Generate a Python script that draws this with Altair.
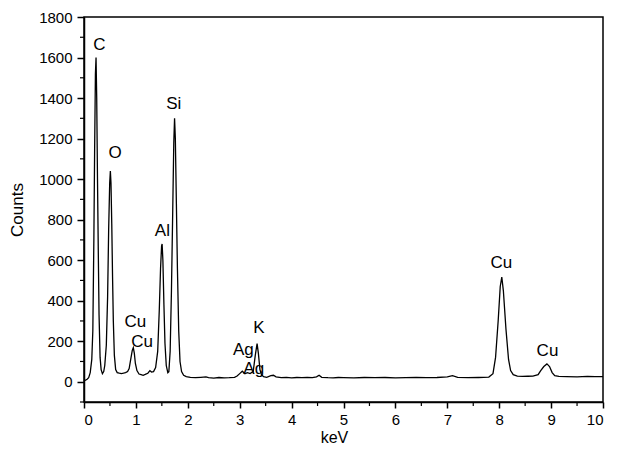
import altair as alt
import pandas as pd

# ---- spectrum (keV, counts) ----
kev = [
    0.00, 0.03, 0.06, 0.09, 0.12, 0.15, 0.17, 0.19, 0.205, 0.22, 0.232, 0.245, 0.26, 0.275, 0.29, 0.31, 0.33, 0.355, 0.38,
    0.40, 0.43, 0.455, 0.475, 0.495, 0.508, 0.52, 0.535, 0.55, 0.565, 0.585, 0.61, 0.64, 0.68, 0.72, 0.76, 0.80, 0.84, 0.87,
    0.90, 0.93, 0.95, 0.97, 0.99, 1.02, 1.06, 1.10, 1.14, 1.18, 1.23, 1.27, 1.30, 1.34,
    1.38, 1.42, 1.45, 1.475, 1.495, 1.505, 1.52, 1.54, 1.56, 1.585, 1.615, 1.635,
    1.66, 1.685, 1.71, 1.73, 1.745, 1.76, 1.78, 1.80, 1.825, 1.85, 1.88, 1.92, 1.97, 2.05, 2.15, 2.25, 2.35, 2.40, 2.50,
    2.60, 2.70, 2.80, 2.90, 2.95, 3.00, 3.05, 3.10, 3.15, 3.20, 3.26, 3.30, 3.335, 3.36, 3.39, 3.42, 3.46, 3.52, 3.60,
    3.65, 3.70, 3.80, 3.90, 4.00, 4.10, 4.20, 4.30, 4.40, 4.48, 4.53, 4.58, 4.70, 4.80, 4.90, 5.00, 5.20, 5.40, 5.60,
    5.80, 6.00, 6.20, 6.40, 6.60, 6.80, 7.00, 7.10, 7.20, 7.40, 7.60, 7.80, 7.88, 7.93, 7.98, 8.02, 8.05, 8.08, 8.13,
    8.18, 8.22, 8.27, 8.35, 8.45, 8.55, 8.65, 8.75, 8.80, 8.86, 8.92, 8.97, 9.02, 9.07, 9.15, 9.30, 9.50, 9.70, 9.85, 10.0,
]
counts = [
    5, 8, 12, 20, 45, 110, 250, 700, 1150, 1520, 1600, 1400, 1000, 650, 330, 120, 60, 40, 50,
    80, 180, 420, 750, 980, 1040, 980, 780, 520, 300, 130, 60, 45, 42, 40, 42, 45, 50, 65,
    110, 155, 168, 140, 90, 55, 38, 35, 32, 36, 42, 55, 48, 50,
    70, 150, 350, 560, 670, 680, 600, 380, 190, 80, 45, 50,
    150, 450, 850, 1180, 1300, 1200, 880, 560, 250, 100, 50, 32, 25, 22, 20, 22, 24, 20, 18,
    21, 19, 20, 22, 28, 40, 52, 40, 45, 40, 50, 130, 188, 140, 60, 35, 25, 22, 30,
    32, 24, 20, 22, 19, 21, 20, 22, 20, 24, 32, 22, 20, 19, 21, 20, 19, 21, 20,
    21, 19, 20, 22, 20, 21, 24, 30, 22, 20, 21, 23, 40, 120, 300, 470, 516, 450, 260,
    110, 55, 35, 28, 26, 27, 28, 35, 55, 75, 88, 75, 45, 30, 26, 25, 24, 26, 25, 25,
]

# ---- peak labels ----
label_text = ["C", "O", "Si", "Al", "Cu", "Cu", "Ag", "Ag", "K", "Cu", "Cu"]
label_kev = [0.295, 0.60, 1.73, 1.51, 0.99, 1.12, 3.07, 3.27, 3.37, 8.04, 8.93]
label_counts = [1660, 1130, 1372, 743, 295, 197, 157, 65, 266, 585, 150]

# ---- axis ticks ----
x_major = list(range(0, 11))
x_minor = [0.5, 1.5, 2.5, 3.5, 4.5, 5.5, 6.5, 7.5, 8.5, 9.5]
y_major = [0, 200, 400, 600, 800, 1000, 1200, 1400, 1600, 1800]
y_minor = [-100, 100, 300, 500, 700, 900, 1100, 1300, 1500, 1700]

FONT = "Liberation Sans"
W, H = 519, 385

spec = pd.DataFrame({"keV": kev, "Counts": counts})
labels = pd.DataFrame({"keV": label_kev, "Counts": label_counts, "t": label_text})
xm = pd.DataFrame({"v": x_minor})
ym = pd.DataFrame({"v": y_minor})

xscale = alt.Scale(domain=[0, 10], nice=False, zero=False)
yscale = alt.Scale(domain=[-100, 1800], nice=False, zero=False)

line = alt.Chart(spec).mark_line(color="black", strokeWidth=1.3).encode(
    x=alt.X("keV:Q", scale=xscale,
            axis=alt.Axis(values=x_major, format="d", title="keV", titleX=250,
                          titlePadding=2, titleFontSize=16, tickSize=6, labelPadding=4)),
    y=alt.Y("Counts:Q", scale=yscale,
            axis=alt.Axis(values=y_major, format="d", title="Counts", titlePadding=12)),
)

text = alt.Chart(labels).mark_text(
    font=FONT, fontSize=17, color="black", align="center", baseline="middle"
).encode(
    x=alt.X("keV:Q", scale=xscale),
    y=alt.Y("Counts:Q", scale=yscale),
    text="t:N",
)

xminor = alt.Chart(xm).mark_rule(color="black", strokeWidth=1.2).encode(
    x=alt.X("v:Q", scale=xscale),
    y=alt.value(H), y2=alt.value(H + 4),
)
yminor = alt.Chart(ym).mark_rule(color="black", strokeWidth=1.2).encode(
    y=alt.Y("v:Q", scale=yscale),
    x=alt.value(-4), x2=alt.value(0),
)

chart = alt.layer(line, text, xminor, yminor).properties(
    width=W, height=H,
    background="white",
    padding={"left": 76, "top": 9, "right": 9, "bottom": 43},
    autosize=alt.AutoSizeParams(type="none"),
).configure_view(
    stroke="black", strokeWidth=1.5
).configure_axis(
    grid=False,
    domainColor="black", domainWidth=1.5,
    tickColor="black", tickWidth=1.5, tickSize=7,
    labelFont=FONT, labelFontSize=15, labelColor="black", labelPadding=5,
    titleFont=FONT, titleFontSize=17, titleFontWeight="normal", titleColor="black",
)

chart.save("out.html", embed_options={"renderer": "svg", "actions": False})
